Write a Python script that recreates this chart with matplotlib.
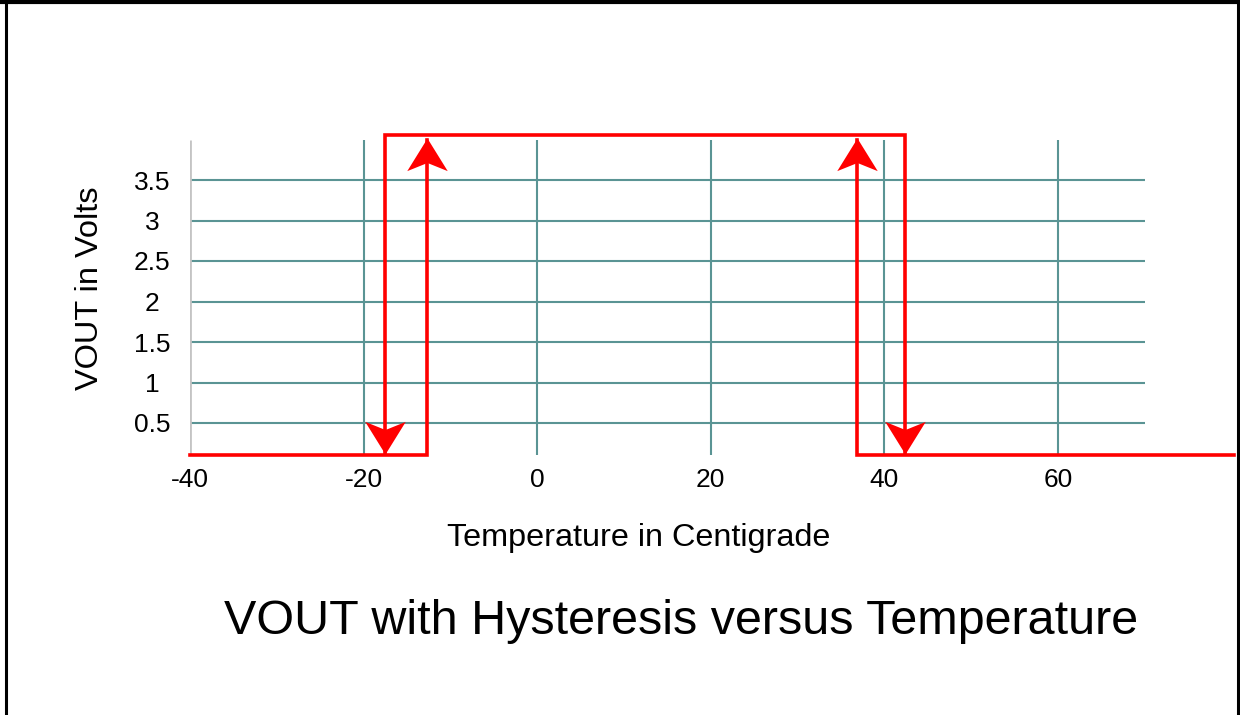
import numpy as np
import matplotlib
matplotlib.use("Agg")
from matplotlib import pyplot as plt
from matplotlib.path import Path
from matplotlib.lines import Line2D

plt.rcParams['font.family'] = ['Liberation Sans', 'DejaVu Sans']

# grid and ticks
X_TICKS = [-40, -20, 0, 20, 40, 60]
Y_TICKS = [0.5, 1, 1.5, 2, 2.5, 3, 3.5]
Y_TICK_LABELS = ["0.5", "1", "1.5", "2", "2.5", "3", "3.5"]
V_GRID = [-20, 0, 20, 40, 60]
GRID_X_RANGE = (-40.35, 70.0)
GRID_Y_RANGE = (0.1, 3.99)

# hysteresis path (temperature in C, VOUT in V)
low_x = [-40, -30, -30, -12.7, -12.7]
low_y = [0.11, 0.11, 0.1, 0.1, 4.0]
top_x = [-17.5, -17.5, 42.4, 42.4]
top_y = [0.13, 4.06, 4.06, 0.13]
high_x = [80.3, 36.8, 36.8]
high_y = [0.1, 0.1, 4.0]

up_x = [-12.7, 36.8]
up_y = [4.02, 4.02]
down_x = [-17.5, 42.4]
down_y = [0.12, 0.12]

RED = "#ff0000"
TEAL = "#5a9494"

fig = plt.figure(figsize=(12.4, 7.15), dpi=100)
ax = fig.add_axes([190 / 1240, (715 - 463.5) / 715, 1041.6 / 1240, 340.2 / 715])
ax.set_xlim(-40, 80)
ax.set_ylim(0, 4.2)
for s in ax.spines.values():
    s.set_visible(False)

ax.hlines(Y_TICKS, GRID_X_RANGE[0], GRID_X_RANGE[1], color=TEAL, lw=1.5, zorder=1)
ax.vlines(V_GRID, GRID_Y_RANGE[0], GRID_Y_RANGE[1], color=TEAL, lw=1.5, zorder=1)
ax.vlines([-40], GRID_Y_RANGE[0], GRID_Y_RANGE[1], color="#c4c4c4", lw=2, zorder=2)

for xs, ys in [(low_x, low_y), (top_x, top_y), (high_x, high_y)]:
    ax.plot(xs, ys, color=RED, lw=2.6, solid_joinstyle="miter", clip_on=False, zorder=3)

up_head = Path([(0, 0), (0.62, -1.0), (0, -0.75), (-0.62, -1.0), (0, 0)],
               [Path.MOVETO, Path.LINETO, Path.LINETO, Path.LINETO, Path.CLOSEPOLY])
down_head = Path([(0, 0), (0.62, 1.0), (0, 0.75), (-0.62, 1.0), (0, 0)],
                 [Path.MOVETO, Path.LINETO, Path.LINETO, Path.LINETO, Path.CLOSEPOLY])
ax.plot(up_x, up_y, ls="none", marker=up_head, ms=47, color=RED, mew=0, zorder=4, clip_on=False)
ax.plot(down_x, down_y, ls="none", marker=down_head, ms=47, color=RED, mew=0, zorder=4, clip_on=False)

ax.set_xticks(X_TICKS)
ax.set_xticklabels([str(t) for t in X_TICKS], fontsize=19)
ax.set_yticks(Y_TICKS)
ax.set_yticklabels(Y_TICK_LABELS, fontsize=19, ha="center")
ax.tick_params(axis="x", length=0, pad=3)
ax.tick_params(axis="y", length=0, pad=27.4)

fig.text(90 / 1240, (715 - 288) / 715, "VOUT in Volts", rotation=90,
         ha="center", va="center", fontsize=23.4)
fig.text(639 / 1240, (715 - 546) / 715, "Temperature in Centigrade",
         ha="center", va="baseline", fontsize=23.3)
fig.text(224 / 1240, (715 - 634) / 715, "VOUT with Hysteresis versus Temperature",
         ha="left", va="baseline", fontsize=34.9)

# frame around the picture (top, left, right)
fig.add_artist(Line2D([0, 1], [1 - 2 / 715, 1 - 2 / 715], transform=fig.transFigure, color="black", lw=3))
fig.add_artist(Line2D([5.5 / 1240, 5.5 / 1240], [0, 1], transform=fig.transFigure, color="black", lw=2.2))
fig.add_artist(Line2D([1237.5 / 1240, 1237.5 / 1240], [0, 1], transform=fig.transFigure, color="black", lw=2.2))

fig.savefig("out.png", dpi=100)
